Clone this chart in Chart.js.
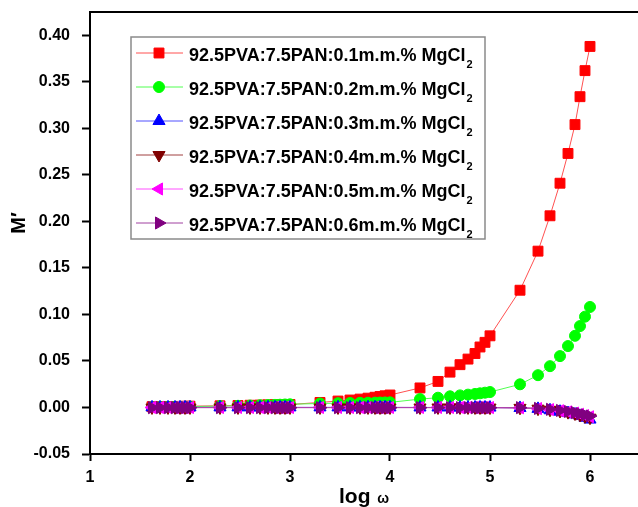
<!DOCTYPE html>
<html><head><meta charset="utf-8">
<script src="https://cdn.jsdelivr.net/npm/chart.js@4/dist/chart.umd.min.js"></script>
<style>html,body{margin:0;padding:0;background:#fff;overflow:hidden;} #wrap{width:660px;height:507px;}</style>
</head><body><div id="wrap"><canvas id="c" width="660" height="507"></canvas></div>
<script>
// log ω values (x)
const logOmega = [1.62,1.70,1.78,1.85,1.90,1.95,2.00,
  2.30,2.48,2.60,2.70,2.78,2.85,2.90,2.95,3.00,
  3.30,3.48,3.60,3.70,3.78,3.85,3.90,3.95,4.00,
  4.30,4.48,4.60,4.70,4.78,4.85,4.90,4.95,5.00,
  5.30,5.48,5.60,5.70,5.78,5.85,5.90,5.95,6.00];

const seriesLabels = [
  '92.5PVA:7.5PAN:0.1m.m.% MgCl\u2082',
  '92.5PVA:7.5PAN:0.2m.m.% MgCl\u2082',
  '92.5PVA:7.5PAN:0.3m.m.% MgCl\u2082',
  '92.5PVA:7.5PAN:0.4m.m.% MgCl\u2082',
  '92.5PVA:7.5PAN:0.5m.m.% MgCl\u2082',
  '92.5PVA:7.5PAN:0.6m.m.% MgCl\u2082'
];

const m01 = [0.0008,0.0009,0.0010,0.0011,0.0012,0.0013,0.0014,
  0.0018,0.0021,0.0024,0.0026,0.0028,0.0029,0.0030,0.0031,0.0032,
  0.0054,0.0069,0.0080,0.0090,0.0100,0.0110,0.0118,0.0126,0.0134,
  0.0210,0.0280,0.0380,0.0460,0.0520,0.0580,0.0650,0.0700,0.0770,
  0.1260,0.1680,0.2060,0.2410,0.2730,0.3040,0.3340,0.3620,0.3880];
const m02 = [0.0003,0.0004,0.0005,0.0006,0.0007,0.0008,0.0009,
  0.0015,0.0018,0.0021,0.0024,0.0026,0.0028,0.0030,0.0032,0.0034,
  0.0043,0.0046,0.0048,0.0050,0.0051,0.0052,0.0053,0.0054,0.0055,
  0.0090,0.0105,0.0120,0.0130,0.0138,0.0145,0.0152,0.0159,0.0166,
  0.0249,0.0347,0.0444,0.0552,0.0660,0.0770,0.0875,0.0976,0.1080];
const m03 = [0.0001,0.0001,0.0001,0.0001,0.0001,0.0001,0.0001,
  0.0001,0.0001,0.0001,0.0001,0.0001,0.0001,0.0001,0.0001,0.0001,
  0.0001,0.0001,0.0001,0.0001,0.0001,0.0001,0.0001,0.0001,0.0001,
  0.0000,0.0000,0.0000,0.0000,0.0000,0.0000,0.0000,0.0000,-0.0001,
  -0.0005,-0.0015,-0.0030,-0.0045,-0.0060,-0.0075,-0.0090,-0.0110,-0.0130];
const m04 = [0.0000,0.0000,0.0000,0.0000,0.0000,0.0000,0.0000,
  0.0000,0.0000,0.0000,0.0000,0.0000,0.0000,0.0000,0.0000,0.0000,
  0.0000,0.0000,0.0000,0.0000,0.0000,0.0000,0.0000,0.0000,0.0000,
  0.0000,0.0000,0.0000,0.0000,0.0000,0.0000,0.0000,0.0000,-0.0001,
  -0.0004,-0.0013,-0.0025,-0.0038,-0.0050,-0.0065,-0.0080,-0.0095,-0.0110];
const m05 = [0.0000,0.0000,0.0000,0.0000,0.0000,0.0000,0.0000,
  0.0000,0.0000,0.0000,0.0000,0.0000,0.0000,0.0000,0.0000,0.0000,
  0.0000,0.0000,0.0000,0.0000,0.0000,0.0000,0.0000,0.0000,0.0000,
  0.0000,0.0000,0.0000,0.0000,0.0000,0.0000,0.0000,0.0000,-0.0001,
  -0.0003,-0.0012,-0.0023,-0.0035,-0.0047,-0.0060,-0.0073,-0.0087,-0.0100];
const m06 = [-0.0002,-0.0002,-0.0002,-0.0002,-0.0002,-0.0002,-0.0002,
  -0.0002,-0.0002,-0.0002,-0.0002,-0.0002,-0.0002,-0.0002,-0.0002,-0.0002,
  -0.0002,-0.0002,-0.0002,-0.0002,-0.0002,-0.0002,-0.0002,-0.0002,-0.0002,
  -0.0002,-0.0002,-0.0002,-0.0002,-0.0002,-0.0002,-0.0002,-0.0002,-0.0002,
  -0.0002,-0.0010,-0.0020,-0.0032,-0.0043,-0.0055,-0.0067,-0.0080,-0.0092];

const xTicks = [1,2,3,4,5,6];
const yTicks = [-0.05,0.00,0.05,0.10,0.15,0.20,0.25,0.30,0.35,0.40];
const xTitle = ['log', '\u03c9'];
const yTitle = 'M\u2032';

const seriesValues = [m01,m02,m03,m04,m05,m06];
const colors = ['#ff0000','#00ff00','#0000ff','#800000','#ff00ff','#800080'];
const lineColors = ['#ff5050','#50ff50','#5050ff','#a04040','#ff50ff','#a040a0'];
const styles = [
  {pointStyle:'rect', radius:7, rotation:0},
  {pointStyle:'circle', radius:5.5, rotation:0},
  {pointStyle:'triangle', radius:7, rotation:0},
  {pointStyle:'triangle', radius:7, rotation:180},
  {pointStyle:'triangle', radius:7, rotation:270},
  {pointStyle:'triangle', radius:7, rotation:90}
];

const FONT = "'Liberation Sans', Arial, sans-serif";

const datasets = seriesValues.map((vals, i) => ({
  label: seriesLabels[i],
  data: logOmega.map((x, j) => ({x: x, y: vals[j]})),
  borderColor: lineColors[i],
  borderWidth: 1,
  backgroundColor: colors[i],
  pointBackgroundColor: colors[i],
  pointBorderColor: colors[i],
  pointBorderWidth: 1,
  pointStyle: styles[i].pointStyle,
  pointRadius: styles[i].radius,
  pointRotation: styles[i].rotation,
  tension: 0,
  order: 6 - i
}));

const framePlugin = {
  id: 'frame',
  afterDraw(chart) {
    const ctx = chart.ctx, a = chart.chartArea;
    ctx.save();
    // top border
    ctx.strokeStyle = '#000'; ctx.lineWidth = 2;
    ctx.beginPath(); ctx.moveTo(a.left - 1, a.top); ctx.lineTo(a.right + 20, a.top); ctx.stroke();

    // legend box
    const bx = a.left + 41, by = a.top + 25, bw = 354, bh = 202;
    ctx.strokeStyle = '#8a8a8a'; ctx.lineWidth = 1.5;
    ctx.strokeRect(bx, by, bw, bh);
    chart.data.datasets.forEach((ds, i) => {
      const y = by + 16 + i * 34;
      ctx.strokeStyle = ds.borderColor; ctx.lineWidth = 1;
      ctx.beginPath(); ctx.moveTo(bx + 5, y); ctx.lineTo(bx + 52, y); ctx.stroke();
      ctx.fillStyle = ds.pointBackgroundColor; ctx.strokeStyle = ds.pointBorderColor;
      Chart.helpers.drawPoint(ctx, {pointStyle: ds.pointStyle, rotation: ds.pointRotation, radius: ds.pointRadius, borderWidth: 1}, bx + 28, y);
      const parts = ds.label.split('\u2082');
      ctx.fillStyle = '#000';
      ctx.textBaseline = 'alphabetic'; ctx.textAlign = 'left';
      ctx.font = 'bold 18px ' + FONT;
      ctx.fillText(parts[0], bx + 58, y + 7.5);
      const w = ctx.measureText(parts[0]).width;
      ctx.font = 'bold 11px ' + FONT;
      ctx.fillText('2', bx + 58 + w + 1, y + 15);
    });

    // x-axis title "log ω"
    ctx.fillStyle = '#000'; ctx.textBaseline = 'alphabetic'; ctx.textAlign = 'left';
    ctx.font = 'bold 21px ' + FONT;
    const tx = a.left + 249, ty = 503;
    ctx.fillText(xTitle[0], tx, ty);
    const lw = ctx.measureText(xTitle[0] + ' ').width;
    ctx.font = 'bold 14px ' + FONT;
    ctx.fillText(xTitle[1], tx + lw + 1, ty);

    // y-axis title "M′"
    ctx.save();
    ctx.translate(19, 223);
    ctx.rotate(-Math.PI / 2);
    ctx.textAlign = 'center'; ctx.textBaseline = 'middle';
    ctx.font = 'bold 20px ' + FONT;
    ctx.fillText(yTitle, 0, 0);
    ctx.restore();
    ctx.restore();
  }
};

new Chart(document.getElementById('c'), {
  type: 'line',
  data: { datasets },
  options: {
    responsive: false, animation: false, devicePixelRatio: 1,
    layout: { padding: { top: 12, left: 0, right: 0, bottom: 0 } },
    plugins: { legend: { display: false }, tooltip: { enabled: false } },
    scales: {
      x: {
        type: 'linear', min: 1, max: 6.62,
        afterFit(s) { s.height = 53; s.paddingLeft = 0; s.paddingRight = 0; },
        afterBuildTicks(s) { s.ticks = xTicks.map(v => ({value: v})); },
        border: { display: true, color: '#000', width: 2 },
        grid: { drawOnChartArea: false, drawTicks: true, tickLength: 7, tickColor: '#000', tickWidth: 2 },
        ticks: { color: '#000', font: { family: FONT, size: 16, weight: 'bold' }, padding: 7, maxRotation: 0,
          callback: v => String(v) },
        title: { display: false }
      },
      y: {
        type: 'linear', min: -0.05, max: 0.425,
        afterFit(s) { s.width = 90; s.paddingTop = 0; s.paddingBottom = 0; },
        afterBuildTicks(s) { s.ticks = yTicks.map(v => ({value: v})); },
        border: { display: true, color: '#000', width: 2 },
        grid: { drawOnChartArea: false, drawTicks: true, tickLength: 8, tickColor: '#000', tickWidth: 2 },
        ticks: { color: '#000', font: { family: FONT, size: 16, weight: 'bold' }, padding: 12,
          callback: v => v.toFixed(2) },
        title: { display: false }
      }
    }
  },
  plugins: [framePlugin]
});
</script>
</body></html>
